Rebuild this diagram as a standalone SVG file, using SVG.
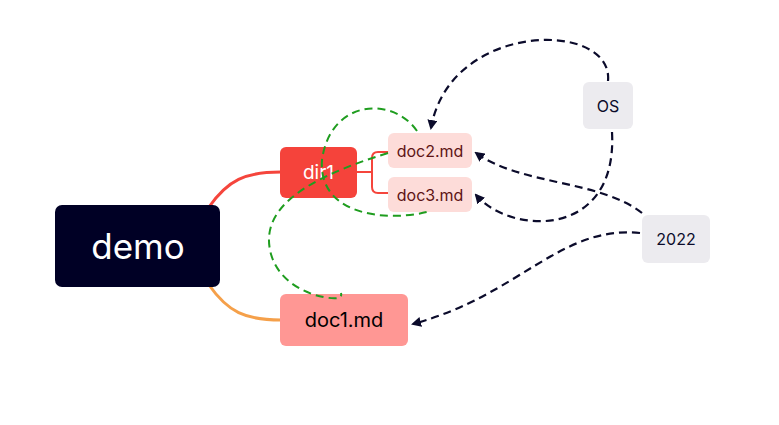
<svg xmlns="http://www.w3.org/2000/svg" width="779" height="425" viewBox="0 0 779 425">
  <defs>
    <marker id="arrow" viewBox="0 0 10 10" refX="8" refY="5" markerWidth="10" markerHeight="10" markerUnits="userSpaceOnUse" orient="auto">
      <path d="M0,0 L10,5 L0,10 z" fill="#0b0b2b"/>
    </marker>
    <style>
      text { font-family: "Inter", "Noto Sans", "Liberation Sans", sans-serif; text-anchor: middle; dominant-baseline: central; }
      .branch { fill: none; stroke-linecap: round; }
      .rel { fill: none; stroke: #0b0b2b; stroke-width: 2.2; stroke-dasharray: 8 5; }
      .loop { fill: none; stroke: #1f9d1f; stroke-width: 2; stroke-dasharray: 8 5; }
    </style>
  </defs>
  <rect width="779" height="425" fill="#ffffff"/>

  <g id="connectors">
    <!-- main branches -->
    <path class="branch" d="M209,207 C228,180 245,172 281,172" stroke="#f5453c" stroke-width="3"/>
    <path class="branch" d="M209,285 C228,312 245,320 281,320" stroke="#f5a04a" stroke-width="3"/>
    <!-- dir1 bracket to children -->
    <path class="branch" d="M357,172 H372 M389,152 H378 Q372,152 372,158 V187 Q372,193 378,193 H389" stroke="#f5453c" stroke-width="2"/>
    <!-- relationship arrows -->
    <path class="rel" d="M608,81 C614,20 450,20 431,128" marker-end="url(#arrow)"/>
    <path class="rel" d="M612,132 C618,240 510,235 476,195" marker-end="url(#arrow)"/>
    <path class="rel" d="M642,213 C600,180 520,185 476,153" marker-end="url(#arrow)"/>
    <path class="rel" d="M640,233 C560,225 520,295 413,324" marker-end="url(#arrow)"/>
  </g>

  <g id="demo">
    <rect x="55" y="205" width="165" height="82" rx="7" fill="#000025"/>
    <text x="138" y="246" font-size="35" fill="#ffffff">demo</text>
  </g>
  <g id="dir1">
    <rect x="280" y="147" width="77" height="51" rx="6" fill="#f5433b"/>
    <text x="318.5" y="172.5" font-size="19" fill="#ffffff">dir1</text>
  </g>
  <g id="doc2">
    <rect x="388" y="133" width="84" height="35" rx="6" fill="#fddcd9"/>
    <text x="430" y="150.5" font-size="16" fill="#5e1414">doc2.md</text>
  </g>
  <g id="doc3">
    <rect x="388" y="177" width="84" height="35" rx="6" fill="#fddcd9"/>
    <text x="430" y="194.5" font-size="16" fill="#5e1414">doc3.md</text>
  </g>
  <g id="doc1">
    <rect x="280" y="294" width="128" height="52" rx="6" fill="#ff9794"/>
    <text x="344" y="320" font-size="20" fill="#000000">doc1.md</text>
  </g>
  <g id="os">
    <rect x="583" y="82" width="50" height="47" rx="6" fill="#ecebef"/>
    <text x="608" y="105.5" font-size="16" fill="#0b0b2b">OS</text>
  </g>
  <g id="y2022">
    <rect x="642" y="215" width="68" height="48" rx="6" fill="#ecebef"/>
    <text x="676" y="239" font-size="16" fill="#0b0b2b">2022</text>
  </g>

  <!-- green dashed loops drawn over the nodes -->
  <g id="loops">
    <path class="loop" d="M417,131 C392,95 330,100 322,160 C318,215 385,222 427,212"/>
    <path class="loop" d="M388,153 C300,180 262,210 270,250 C278,290 325,300 338,298 Q342,297 341,293"/>
  </g>
</svg>
